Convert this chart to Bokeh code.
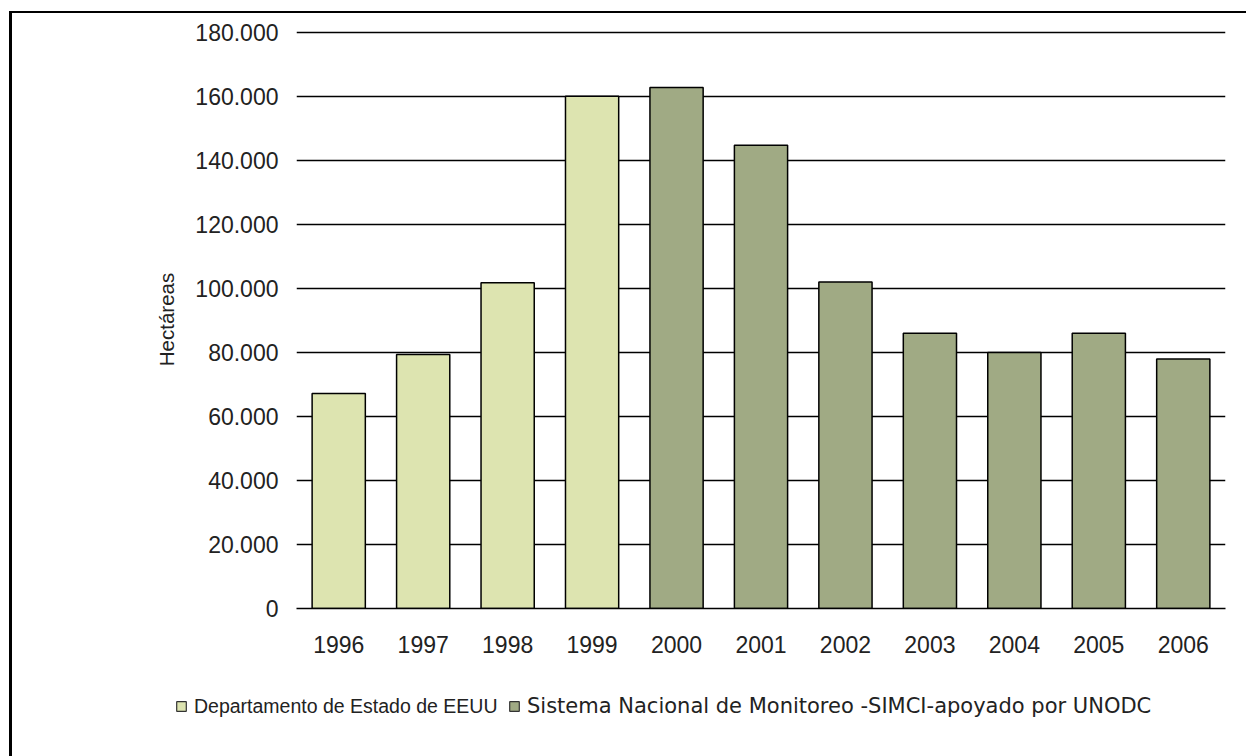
from bokeh.plotting import figure
from bokeh.layouts import column, row
from bokeh.models import ColumnDataSource, FactorRange, Range1d, FixedTicker, Legend, LegendItem
from bokeh.embed import file_html
from bokeh.resources import INLINE

years_state = ["1996", "1997", "1998", "1999"]
values_state = [67200, 79400, 101800, 160100]
years_simci = ["2000", "2001", "2002", "2003", "2004", "2005", "2006"]
values_simci = [162800, 144800, 102000, 86000, 80000, 86000, 78000]
all_years = years_state + years_simci
y_ticks = [0, 20000, 40000, 60000, 80000, 100000, 120000, 140000, 160000, 180000]
y_tick_labels = ["0", "20.000", "40.000", "60.000", "80.000", "100.000",
                 "120.000", "140.000", "160.000", "180.000"]
series_names = ["Departamento de Estado de EEUU",
                "Sistema Nacional de Monitoreo -SIMCI-apoyado por UNODC"]
y_label = "Hectáreas"

FONT = "Liberation Sans"
TXT = "#222222"
LIGHT = "#DDE4B0"
DARK = "#A0AA84"

src1 = ColumnDataSource(dict(x=years_state, top=values_state))
src2 = ColumnDataSource(dict(x=years_simci, top=values_simci))

# main chart
p = figure(width=1234, height=657, x_range=FactorRange(*all_years, range_padding=0),
           y_range=Range1d(0, 180625), output_backend="svg", toolbar_location=None,
           min_border_left=284, min_border_top=17, min_border_right=21, min_border_bottom=62)
p.outline_line_color = None
p.background_fill_color = "white"
p.border_fill_color = "white"

p.vbar(x="x", top="top", width=0.63, source=src1, fill_color=LIGHT,
       line_color="black", line_width=1.5)
p.vbar(x="x", top="top", width=0.63, source=src2, fill_color=DARK,
       line_color="black", line_width=1.5)

p.xgrid.grid_line_color = None
p.ygrid.grid_line_color = "black"
p.ygrid.grid_line_width = 1.5
p.ygrid.ticker = FixedTicker(ticks=y_ticks)

p.yaxis.ticker = FixedTicker(ticks=y_ticks)
p.yaxis.major_label_overrides = {t: l for t, l in zip(y_ticks, y_tick_labels)}
p.yaxis.axis_line_color = None
p.yaxis.major_tick_line_color = None
p.yaxis.minor_tick_line_color = None
p.yaxis.major_label_standoff = 12
p.yaxis.axis_label = y_label
p.yaxis.axis_label_standoff = 14
p.yaxis.axis_label_text_font = FONT
p.yaxis.axis_label_text_font_style = "normal"
p.yaxis.axis_label_text_font_size = "20.5px"
p.yaxis.axis_label_text_color = TXT

p.xaxis.axis_line_color = "black"
p.xaxis.axis_line_width = 1.5
p.xaxis.major_tick_line_color = None
p.xaxis.minor_tick_line_color = None
p.xaxis.major_label_standoff = 21

for ax in (p.xaxis[0], p.yaxis[0]):
    ax.major_label_text_font = FONT
    ax.major_label_text_font_size = "23px"
    ax.major_label_text_color = TXT

# legend strip: same sources; its x range holds no year factor, so no bar is drawn there
pl = figure(width=1234, height=86, x_range=FactorRange("legend"),
            y_range=Range1d(0, 1), output_backend="svg", toolbar_location=None,
            min_border_left=0, min_border_right=0, min_border_top=0, min_border_bottom=0)
pl.axis.visible = False
pl.grid.visible = False
pl.outline_line_color = None
pl.background_fill_color = "white"
pl.border_fill_color = "white"
l1 = pl.vbar(x="x", top="top", width=0.63, source=src1, fill_color=LIGHT,
             line_color="#333333", line_width=1.2)
l2 = pl.vbar(x="x", top="top", width=0.63, source=src2, fill_color=DARK,
             line_color="#333333", line_width=1.2)


def make_legend(label, rend, loc, font, size):
    lg = Legend(items=[LegendItem(label=label, renderers=[rend])],
                orientation="horizontal", location=loc)
    lg.border_line_color = None
    lg.background_fill_alpha = 0
    lg.padding = 0
    lg.margin = 0
    lg.glyph_width = 12
    lg.glyph_height = 12
    lg.label_height = 26
    lg.label_standoff = 7
    lg.label_text_font = font
    lg.label_text_font_size = size
    lg.label_text_color = TXT
    return lg


pl.add_layout(make_legend(series_names[0], l1, (163, 37), FONT, "19.5px"), "center")
pl.add_layout(make_legend(series_names[1], l2, (496, 37), "DejaVu Sans", "21px"), "center")

layout = column(p, row(pl, spacing=0), spacing=0)
layout.margin = (11, 0, 0, 9)
layout.styles = {"border-left": "3px solid black", "border-top": "2px solid black"}

open("out.html", "w").write(file_html(layout, INLINE))
